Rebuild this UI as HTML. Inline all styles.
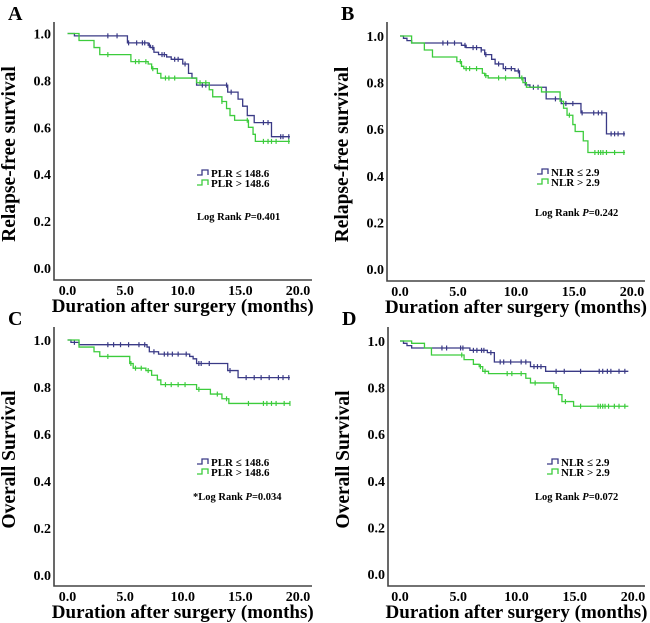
<!DOCTYPE html>
<html><head><meta charset="utf-8"><style>
body{margin:0;background:#fff;}
svg{display:block;font-family:"Liberation Serif",serif;font-weight:bold;}
</style></head><body>
<svg id="fig" width="650" height="623" viewBox="0 0 650 623"></svg>
<script>
// Panel A: RFS by PLR
const aBlueT=[0,0.6,5.2,7.0,7.2,7.5,7.9,8.6,9.0,10.0,10.5,10.8,11.2,13.9,14.8,15.2,15.6,16.2,17.7];
const aBlueS=[1.0,0.99,0.96,0.95,0.94,0.92,0.91,0.90,0.89,0.87,0.83,0.81,0.78,0.75,0.72,0.69,0.65,0.62,0.56];
const aBlueC=[3.5,4.3,5.3,6.0,6.5,6.7,7.1,7.4,8.2,8.4,9.3,9.6,10.2,11.7,12.0,13.8,14.2,17.0,17.4,18.5,18.7,19.2];
const aGreenT=[0,1.0,2.3,2.8,5.5,7.0,7.3,7.8,8.1,11.2,12.3,12.6,13.4,13.8,14.1,14.5,15.7,16.1,16.3];
const aGreenS=[1.0,0.97,0.94,0.91,0.88,0.87,0.85,0.83,0.81,0.79,0.76,0.73,0.71,0.68,0.65,0.63,0.60,0.57,0.54];
const aGreenC=[3.5,5.9,6.2,6.8,7.4,8.5,8.8,9.3,11.5,12.0,13.4,15.6,17.0,17.4,17.7,18.1,19.2];
// Panel B: RFS by NLR
const bBlueT=[0,0.3,0.6,1.0,5.3,5.7,7.0,7.3,7.9,8.2,8.9,9.9,10.3,10.8,11.2,12.6,13.9,15.6,17.8];
const bBlueS=[1.0,0.99,0.98,0.97,0.96,0.95,0.94,0.92,0.90,0.88,0.86,0.85,0.82,0.79,0.78,0.73,0.71,0.67,0.58];
const bBlueC=[3.7,4.1,4.7,5.6,6.3,6.6,7.0,7.4,8.5,9.1,9.6,10.2,11.5,11.9,13.4,14.3,14.9,15.7,16.7,17.1,17.4,18.2,18.5,18.8,19.3];
const bGreenT=[0,1.0,2.1,2.8,4.9,5.3,5.5,7.1,7.3,7.6,10.6,10.9,12.2,13.8,14.1,14.4,14.9,15.1,15.8,16.2];
const bGreenS=[1.0,0.97,0.94,0.91,0.89,0.87,0.86,0.84,0.83,0.82,0.80,0.78,0.76,0.72,0.69,0.66,0.62,0.59,0.55,0.50];
const bGreenC=[5.2,5.7,6.0,6.6,7.4,8.5,9.1,10.5,14.6,16.8,17.1,17.3,17.5,17.8,18.5,19.3];
// Panel C: OS by PLR
const cBlueT=[0,0.3,1.0,6.9,7.1,7.9,10.6,10.9,11.2,13.9,14.8];
const cBlueS=[1.0,0.99,0.98,0.97,0.95,0.94,0.93,0.92,0.90,0.87,0.84];
const cBlueC=[0.6,3.5,4.0,4.6,5.3,6.2,6.7,7.5,8.4,8.7,9.1,9.6,10.3,11.4,11.6,12.3,14.1,15.5,16.2,16.8,17.5,18.3,18.7,19.2];
const cGreenT=[0,1.0,2.3,2.8,5.4,5.7,6.8,7.3,7.8,8.1,11.2,12.4,13.4,14.0];
const cGreenS=[1.0,0.97,0.95,0.93,0.90,0.88,0.87,0.85,0.83,0.81,0.79,0.77,0.75,0.73];
const cGreenC=[3.5,5.5,5.9,6.4,7.0,8.5,9.0,9.6,10.2,11.4,13.0,13.8,15.7,17.0,17.3,17.7,18.1,18.8,19.3];
// Panel D: OS by NLR
const dBlueT=[0,0.3,0.6,1.0,6.0,7.5,8.1,11.2,12.5];
const dBlueS=[1.0,0.99,0.98,0.97,0.96,0.95,0.91,0.89,0.87];
const dBlueC=[3.6,4.0,5.2,5.4,6.3,6.6,7.0,7.2,7.8,8.6,8.9,9.5,10.4,10.8,11.5,11.8,12.1,13.4,14.1,15.5,17.1,17.4,17.8,18.1,18.8,19.3];
const dGreenT=[0,1.0,2.1,2.7,5.5,6.3,6.8,7.1,7.6,10.8,11.2,13.2,13.6,13.9,14.9];
const dGreenS=[1.0,0.99,0.97,0.94,0.92,0.90,0.89,0.87,0.86,0.84,0.82,0.80,0.77,0.74,0.72];
const dGreenC=[5.3,6.9,7.3,9.2,9.6,10.4,11.6,13.4,14.2,15.5,17.0,17.2,17.4,17.6,17.9,18.4,18.8,19.3];
const xTicks=[0,5,10,15,20];
const yTicks=[0,0.2,0.4,0.6,0.8,1.0];

const NS='http://www.w3.org/2000/svg';
const svg=document.getElementById('fig');
const BLUE='#3a3a86', GREEN='#3ccc3c';
function mk(tag,attrs,parent){const e=document.createElementNS(NS,tag);for(const k in attrs)e.setAttribute(k,attrs[k]);(parent||svg).appendChild(e);return e;}

function panel(p){
  const g=mk('g',{});
  
  
  const X=t=>p.x0+(p.x20-p.x0)*t/20;
  const Y=s=>p.y0+(p.y1-p.y0)*s;
  const ax=mk('path',{d:`M${p.left} ${p.top} V${p.bottom} H${p.right}`,stroke:'#444',fill:'none','stroke-width':1.6},g);
  
  
  const L=mk('text',{x:p.left-46,y:p.top-2,'font-size':20},g);L.textContent=p.id;
  
  
  yTicks.forEach(v=>{const t=mk('text',{x:p.left-3,y:Y(v)+5,'font-size':14,'text-anchor':'end'},g);t.textContent=v.toFixed(1);
    
    });
  xTicks.forEach(v=>{const t=mk('text',{x:X(v),y:p.bottom+15,'font-size':14,'text-anchor':'middle'},g);t.textContent=v.toFixed(1);
    
    });
  const xt=mk('text',{x:(p.x0+p.x20)/2,y:p.bottom+32,'font-size':19,'text-anchor':'middle'},g);xt.textContent='Duration after surgery (months)';
  
  
  const cy=(p.top+p.bottom)/2+3;
  const yt=mk('text',{x:p.left-39,y:cy,'font-size':19.5,'text-anchor':'middle',transform:`rotate(-90 ${p.left-39} ${cy})`},g);yt.textContent=p.ylab;
  
  
  function curve(T,S,C,end,col,name){
    let d=`M${X(T[0])} ${Y(S[0])}`;
    for(let i=1;i<T.length;i++){d+=` H${X(T[i])} V${Y(S[i])}`;}
    d+=` H${X(end)}`;
    const c=mk('path',{d,stroke:col,fill:'none','stroke-width':1.3},g);
    
    
    C.forEach(t=>{let s=S[0];for(let i=0;i<T.length;i++)if(T[i]<=t)s=S[i];
      const m=mk('line',{x1:X(t),x2:X(t),y1:Y(s)-2.5,y2:Y(s)+2.5,stroke:col,'stroke-width':1.2},g);
      
      });
  }
  curve(p.bt,p.bs,p.bc,p.end,BLUE,'group-low');
  curve(p.gt,p.gs,p.gc,p.end,GREEN,'group-high');
  [[BLUE,p.lab1,p.ly],[GREEN,p.lab2,p.ly+10]].forEach(([col,txt,ly],i)=>{
    const s=mk('path',{d:`M${p.lx} ${ly+2} H${p.lx+5} V${ly-3} H${p.lx+11} V${ly+2}`,stroke:col,fill:'none','stroke-width':1.3},g);
    
    
    const t=mk('text',{x:p.lx+14,y:ly+4,'font-size':11},g);t.textContent=txt;
    
    
  });
  const r=mk('text',{x:p.rx,y:p.ry,'font-size':10.5},g);
  r.innerHTML=p.pre+'Log Rank <tspan font-style="italic">P</tspan>='+p.pv;
  
  
}
panel({id:'A',left:54,top:22,bottom:280,right:312,x0:67.5,x20:298,y1:33.5,y0:268,ylab:'Relapse-free survival',
  bt:aBlueT,bs:aBlueS,bc:aBlueC,gt:aGreenT,gs:aGreenS,gc:aGreenC,end:19.3,
  lab1:'PLR ≤ 148.6',lab2:'PLR > 148.6',lx:197,ly:173,rx:197,ry:220,pre:'',pv:'0.401'});
panel({id:'B',left:387,top:22,bottom:281,right:645,x0:400,x20:632,y1:36,y0:269,ylab:'Relapse-free survival',
  bt:bBlueT,bs:bBlueS,bc:bBlueC,gt:bGreenT,gs:bGreenS,gc:bGreenC,end:19.4,
  lab1:'NLR ≤ 2.9',lab2:'NLR > 2.9',lx:537,ly:172,rx:535,ry:216,pre:'',pv:'0.242'});
panel({id:'C',left:54,top:327,bottom:586,right:312,x0:67.5,x20:298,y1:340,y0:575,ylab:'Overall Survival',
  bt:cBlueT,bs:cBlueS,bc:cBlueC,gt:cGreenT,gs:cGreenS,gc:cGreenC,end:19.3,
  lab1:'PLR ≤ 148.6',lab2:'PLR > 148.6',lx:197,ly:462,rx:193,ry:500,pre:'*',pv:'0.034'});
panel({id:'D',left:388,top:327,bottom:586,right:645,x0:400,x20:633,y1:341,y0:574,ylab:'Overall Survival',
  bt:dBlueT,bs:dBlueS,bc:dBlueC,gt:dGreenT,gs:dGreenS,gc:dGreenC,end:19.6,
  lab1:'NLR ≤ 2.9',lab2:'NLR > 2.9',lx:547,ly:462,rx:535,ry:500,pre:'',pv:'0.072'});
</script>
</body></html>
